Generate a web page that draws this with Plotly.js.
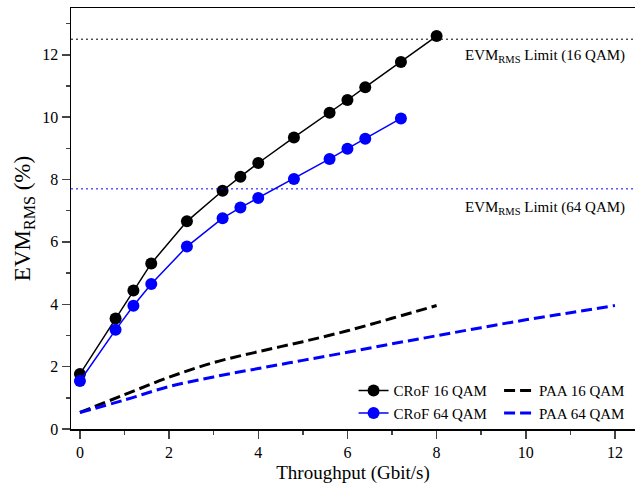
<!DOCTYPE html>
<html>
<head>
<meta charset="utf-8">
<script src="https://cdn.plot.ly/plotly-3.0.1.min.js"></script>
<style>html,body{margin:0;padding:0;background:#fff;}#chart{width:635px;height:491px;}</style>
</head>
<body>
<div id="chart"></div>
<script>
// CRoF measurements
const crof16X = [0, 0.8, 1.2, 1.6, 2.4, 3.2, 3.6, 4.0, 4.8, 5.6, 6.0, 6.4, 7.2, 8.0];
const crof16Y = [1.76, 3.54, 4.44, 5.31, 6.66, 7.64, 8.09, 8.53, 9.35, 10.14, 10.55, 10.96, 11.77, 12.6];
const crof64X = [0, 0.8, 1.2, 1.6, 2.4, 3.2, 3.6, 4.0, 4.8, 5.6, 6.0, 6.4, 7.2];
const crof64Y = [1.54, 3.18, 3.95, 4.65, 5.85, 6.76, 7.1, 7.41, 8.02, 8.66, 8.99, 9.31, 9.96];
// PAA curves
const paa16X = [0, 1, 2, 3, 4, 5, 6, 7, 8];
const paa16Y = [0.53, 1.1, 1.66, 2.13, 2.48, 2.8, 3.15, 3.55, 3.96];
const paa64X = [0, 1, 2, 3, 4, 5, 6, 7, 8, 9, 10, 11, 12];
const paa64Y = [0.53, 0.93, 1.36, 1.67, 1.94, 2.2, 2.46, 2.73, 2.99, 3.25, 3.5, 3.73, 3.96];
// EVM limits
const limitNames = ['EVM<sub>RMS</sub> Limit (16 QAM)', 'EVM<sub>RMS</sub> Limit (64 QAM)'];
const limitValues = [12.5, 7.7];
const limitColors = ['#000000', '#0000ff'];

const font = 'Liberation Serif, Times New Roman, serif';

const traces = [
  {x: crof16X, y: crof16Y, name: 'CRoF 16 QAM', mode: 'lines+markers', legend: 'legend',
   line: {color: '#000000', width: 1.5}, marker: {color: '#000000', size: 12}},
  {x: crof64X, y: crof64Y, name: 'CRoF 64 QAM', mode: 'lines+markers', legend: 'legend',
   line: {color: '#0000ff', width: 1.5}, marker: {color: '#0000ff', size: 12}},
  {x: paa16X, y: paa16Y, name: 'PAA 16 QAM', mode: 'lines', legend: 'legend2',
   line: {color: '#000000', width: 3, dash: '11px,5px', shape: 'spline'}},
  {x: paa64X, y: paa64Y, name: 'PAA 64 QAM', mode: 'lines', legend: 'legend2',
   line: {color: '#0000ff', width: 3, dash: '11px,5px', shape: 'spline'}}
];

const shapes = limitValues.map((v, i) => ({
  type: 'line', xref: 'paper', x0: 0, x1: 1, yref: 'y', y0: v, y1: v,
  line: {color: limitColors[i], width: 1, dash: '2px,3px'}
}));
const annYs = [limitValues[0] - 0.55, limitValues[1] - 0.62];
const annotations = limitNames.map((t, i) => ({
  text: t, xref: 'paper', x: 0.986, xanchor: 'right', yref: 'y', y: annYs[i], yanchor: 'middle',
  showarrow: false, font: {family: font, size: 15, color: '#000'}
}));

const legendBase = {
  font: {family: font, size: 15, color: '#000'}, bgcolor: 'rgba(0,0,0,0)',
  xanchor: 'left', yanchor: 'top', tracegroupgap: 0, itemwidth: 30
};

const layout = {
  width: 635, height: 491,
  margin: {l: 71, r: 0, t: 8, b: 62},
  paper_bgcolor: '#fff', plot_bgcolor: '#fff',
  font: {family: font, color: '#000'},
  showlegend: true,
  legend: Object.assign({}, legendBase, {x: 0.501, y: 0.13}),
  legend2: Object.assign({}, legendBase, {x: 0.759, y: 0.13}),
  xaxis: {
    range: [-0.2, 12.45], dtick: 2, tick0: 0, ticks: 'outside', ticklen: 8, tickwidth: 1.5,
    showline: true, linewidth: 1.5, linecolor: '#000', mirror: true, showgrid: false, zeroline: false,
    tickfont: {family: font, size: 16},
    minor: {ticks: 'outside', ticklen: 4, tickwidth: 1.5, dtick: 1, tick0: 0, showgrid: false},
    title: {text: 'Throughput (Gbit/s)', font: {family: font, size: 19}, standoff: 6}
  },
  yaxis: {
    range: [0, 13.5], dtick: 2, tick0: 0, ticks: 'outside', ticklen: 8, tickwidth: 1.5,
    showline: true, linewidth: 1.5, linecolor: '#000', showgrid: false, zeroline: false,
    tickfont: {family: font, size: 16},
    minor: {ticks: 'outside', ticklen: 4, tickwidth: 1.5, dtick: 1, tick0: 0, showgrid: false},
    title: {text: 'EVM<sub>RMS</sub> (%)', font: {family: font, size: 23}, standoff: 5}
  },
  shapes: shapes,
  annotations: annotations
};

Plotly.newPlot('chart', traces, layout, {displayModeBar: false, staticPlot: true});
</script>
</body>
</html>
